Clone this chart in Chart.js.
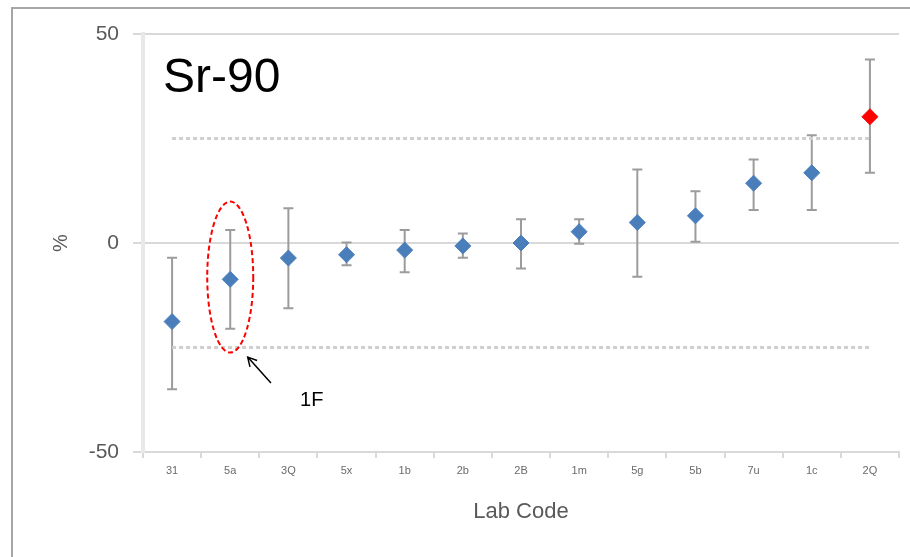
<!DOCTYPE html>
<html>
<head>
<meta charset="utf-8">
<script src="https://cdn.jsdelivr.net/npm/chart.js@4"></script>
<style>
  html, body { margin: 0; padding: 0; background: #fff; overflow: hidden; }
  #wrap { position: relative; width: 910px; height: 557px; }
  #frame { position: absolute; left: 11px; top: 7px; right: -10px; bottom: -10px;
           border-top: 2px solid #a6a6a6; border-left: 2px solid #a6a6a6; pointer-events: none; }
</style>
</head>
<body>
<div id="wrap">
  <canvas id="chart" width="910" height="557"></canvas>
  <div id="frame"></div>
</div>
<script>
// data
const labCodes = ['31', '5a', '3Q', '5x', '1b', '2b', '2B', '1m', '5g', '5b', '7u', '1c', '2Q']
const deviation = [-18.8, -8.7, -3.6, -2.8, -1.7, -0.7, 0, 2.7, 4.9, 6.5, 14.3, 16.8, 30.2]
const errHigh = [-3.5, 3.1, 8.3, 0.1, 3.1, 2.3, 5.7, 5.7, 17.6, 12.4, 20, 25.8, 43.9]
const errLow = [-35, -20.5, -15.6, -5.3, -7, -3.5, -6.1, -0.2, -8.1, 0.3, 7.9, 7.9, 16.8]
const upperLimit = labCodes.map(() => 25)
const lowerLimit = labCodes.map(() => -25)
const yTicks = [-50, 0, 50]

// annotation (lab 1F)
const marked = { index: 1, top: 9.9, bottom: -26.2, center: -8.1 }
const arrow = { fromX: 1.7, fromY: -33.5, toX: 1.3, toY: -27.3 }
const note = { x: 2.2, y: -37.6, text: '1F' }

const pointColors = deviation.map((v, i) => i === deviation.length - 1 ? '#ff0000' : '#4a7ebb')

const extras = {
  id: 'extras',
  beforeDatasetsDraw(chart) {
    const { ctx, scales: { x, y } } = chart
    ctx.save()
    ctx.strokeStyle = '#9c9c9c'
    ctx.lineWidth = 2
    deviation.forEach((v, i) => {
      const px = x.getPixelForValue(i)
      const top = y.getPixelForValue(errHigh[i])
      const bot = y.getPixelForValue(errLow[i])
      ctx.beginPath()
      ctx.moveTo(px, top); ctx.lineTo(px, bot)
      ctx.moveTo(px - 5, top); ctx.lineTo(px + 5, top)
      ctx.moveTo(px - 5, bot); ctx.lineTo(px + 5, bot)
      ctx.stroke()
    })
    ctx.restore()
  },
  afterDatasetsDraw(chart) {
    const { ctx, chartArea, scales: { x, y } } = chart
    ctx.save()
    // title
    ctx.fillStyle = '#000'
    ctx.font = '48px "Liberation Sans", Arial, sans-serif'
    ctx.textBaseline = 'alphabetic'
    ctx.fillText('Sr-90', chartArea.left + 20, 92)

    // red dashed ellipse
    const cx = x.getPixelForValue(marked.index)
    const top = y.getPixelForValue(marked.top)
    const bot = y.getPixelForValue(marked.bottom)
    ctx.strokeStyle = '#ff0000'
    ctx.lineWidth = 2
    ctx.setLineDash([5, 3])
    ctx.beginPath()
    ctx.ellipse(cx, (top + bot) / 2, 23, (bot - top) / 2, 0, 0, Math.PI * 2)
    ctx.stroke()
    ctx.setLineDash([])

    // arrow
    const ax1 = x.getPixelForValue(arrow.fromX), ay1 = y.getPixelForValue(arrow.fromY)
    const ax2 = x.getPixelForValue(arrow.toX), ay2 = y.getPixelForValue(arrow.toY)
    const ang = Math.atan2(ay2 - ay1, ax2 - ax1)
    ctx.strokeStyle = '#000'
    ctx.lineWidth = 1.5
    ctx.beginPath()
    ctx.moveTo(ax1, ay1); ctx.lineTo(ax2, ay2)
    ctx.moveTo(ax2 - 10 * Math.cos(ang - 0.5), ay2 - 10 * Math.sin(ang - 0.5))
    ctx.lineTo(ax2, ay2)
    ctx.lineTo(ax2 - 10 * Math.cos(ang + 0.5), ay2 - 10 * Math.sin(ang + 0.5))
    ctx.stroke()

    ctx.fillStyle = '#000'
    ctx.font = '20px "Liberation Sans", Arial, sans-serif'
    ctx.textBaseline = 'middle'
    ctx.fillText(note.text, x.getPixelForValue(note.x), y.getPixelForValue(note.y))
    ctx.restore()
  }
}

const limitStyle = {
  type: 'line',
  borderColor: '#cfcfcf',
  borderWidth: 3,
  borderDash: [4, 3],
  pointRadius: 0,
  fill: false
}

new Chart(document.getElementById('chart'), {
  type: 'line',
  data: {
    labels: labCodes,
    datasets: [
      { ...limitStyle, label: 'upper', data: upperLimit },
      { ...limitStyle, label: 'lower', data: lowerLimit },
      {
        label: 'Sr-90',
        data: deviation,
        showLine: false,
        pointStyle: 'rectRot',
        pointRadius: 8,
        pointBackgroundColor: pointColors,
        pointBorderColor: pointColors,
        pointBorderWidth: 1
      }
    ]
  },
  options: {
    responsive: false,
    animation: false,
    layout: { padding: { top: 34, right: 11, left: 0, bottom: 0 } },
    plugins: { legend: { display: false }, tooltip: { enabled: false } },
    scales: {
      x: {
        type: 'category',
        offset: true,
        afterFit: s => { s.height = 105 },
        grid: { offset: true, drawOnChartArea: false, drawTicks: true, tickLength: 6, color: '#d9d9d9', lineWidth: 2 },
        border: { display: true, color: '#d9d9d9', width: 2 },
        ticks: { color: '#6a6a6a', font: { size: 11, family: 'Liberation Sans' }, padding: 6, maxRotation: 0 },
        title: { display: true, text: 'Lab Code', color: '#595959', font: { size: 22, family: 'Liberation Sans' }, padding: { bottom: 32 } }
      },
      y: {
        min: -50,
        max: 50,
        afterFit: s => { s.width = 143 },
        afterBuildTicks: s => { s.ticks = yTicks.map(v => ({ value: v })) },
        grid: { color: '#d9d9d9', lineWidth: 2, tickLength: 10 },
        border: { display: true, color: '#e8e8e8', width: 4 },
        ticks: { color: '#595959', font: { size: 21, family: 'Liberation Sans' }, padding: 14 },
        title: { display: true, text: '%', color: '#595959', font: { size: 20, family: 'Liberation Sans' }, padding: { top: 49 } }
      }
    }
  },
  plugins: [extras]
})
</script>
</body>
</html>
